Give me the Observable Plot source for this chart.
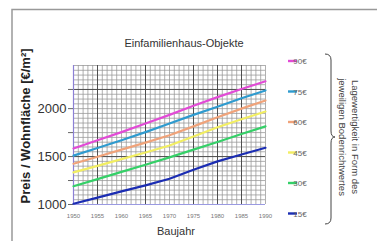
<!DOCTYPE html>
<html>
<head>
<meta charset="utf-8">
<script src="https://cdn.jsdelivr.net/npm/d3@7"></script>
<script src="https://cdn.jsdelivr.net/npm/@observablehq/plot@0.6"></script>
<style>
  html, body { margin: 0; padding: 0; background: #fff; }
  #chart svg { display: block; }
</style>
</head>
<body>
<div id="chart"></div>
<script>
// ---- data ----
const years = [1950, 1955, 1960, 1965, 1970, 1975, 1980, 1985, 1990];
const seriesLabels = ["90€", "75€", "60€", "45€", "30€", "15€"];
const seriesColors = ["#e24bd6", "#2f9bcf", "#f0a37a", "#f2ee62", "#35d068", "#1b2db3"];
const v90 = [1585, 1670, 1755, 1845, 1935, 2030, 2120, 2205, 2285];
const v75 = [1510, 1590, 1670, 1755, 1845, 1935, 2020, 2108, 2190];
const v60 = [1425, 1498, 1572, 1645, 1722, 1815, 1910, 2000, 2085];
const v45 = [1335, 1403, 1473, 1543, 1616, 1710, 1805, 1890, 1970];
const v30 = [1190, 1265, 1340, 1415, 1492, 1572, 1652, 1735, 1815];
const v15 = [1008, 1072, 1137, 1200, 1268, 1362, 1450, 1522, 1592];
const seriesValues = [v90, v75, v60, v45, v30, v15];
const xTicks = [1950, 1955, 1960, 1965, 1970, 1975, 1980, 1985, 1990];
const yTicks = [1000, 1500, 2000];
const yMinorTicks = [1000, 1250, 1500, 1750, 2000, 2200];
const gridYearsMinor = d3.range(1950, 1991, 1);
const gridValuesMinor = d3.range(1000, 2451, 50);
const gridYearsMajor = [1955, 1965, 1975, 1980, 1985];
const gridValuesMajor = [1500, 2200];
const title = "Einfamilienhaus-Objekte";
const xLabel = "Baujahr";
const yLabel = "Preis / Wohnfläche [€/m²]";
const legendTitle1 = "Lagewertigkeit in Form des";
const legendTitle2 = "jeweiligen Bodenrichtwertes";

const table = [];
seriesLabels.forEach((s, i) => {
  years.forEach((yr, j) => table.push({ series: s, year: yr, value: seriesValues[i][j] }));
});

const font = "'Liberation Sans', Arial, Helvetica, sans-serif";

const chart = Plot.plot({
  width: 377,
  height: 241,
  marginLeft: 73,
  marginRight: 112,
  marginTop: 65,
  marginBottom: 37,
  style: { fontFamily: font, background: "#fff", overflow: "visible" },
  x: { domain: [1950, 1990] },
  y: { domain: [1000, 2450] },
  color: { domain: seriesLabels, range: seriesColors },
  marks: [
    Plot.ruleX(gridYearsMinor, { stroke: "#959595", strokeWidth: 0.75 }),
    Plot.ruleY(gridValuesMinor, { stroke: "#959595", strokeWidth: 0.75 }),
    Plot.ruleX(gridYearsMajor, { stroke: "#444", strokeWidth: 0.9 }),
    Plot.ruleY(gridValuesMajor, { stroke: "#444", strokeWidth: 0.9 }),
    Plot.ruleX([1950], { stroke: "#8c80d6", strokeWidth: 1.2 }),
    Plot.ruleY([1000], { stroke: "#9a9ae2", strokeWidth: 1.2 }),
    Plot.axisX(xTicks, { tickSize: 0, tickPadding: 9, fontSize: 6, fill: "#777", label: null, tickFormat: d => String(d) }),
    Plot.axisY(yMinorTicks, { tickSize: 5, stroke: "#666", tickFormat: () => "", label: null }),
    Plot.axisY(yTicks, { tickSize: 0, tickPadding: 7, fontSize: 13, fill: "#333", label: null, tickFormat: d => String(d) }),
    Plot.line(table, { x: "year", y: "value", z: "series", stroke: "series", strokeWidth: 2.2 })
  ]
});

document.getElementById("chart").appendChild(chart);

// ---- decorations (frame, titles, legend) ----
const svg = d3.select(chart);
const g = svg.append("g").attr("font-family", font);

// frame
g.append("path").attr("d", "M12,241 L12,9.5 L377,9.5").attr("fill", "none").attr("stroke", "#999").attr("stroke-width", 1.5);

// title
g.append("text").attr("x", 184).attr("y", 47).attr("text-anchor", "middle")
  .attr("font-size", 11).attr("fill", "#333").text(title);

// x label
g.append("text").attr("x", 176).attr("y", 235).attr("text-anchor", "middle")
  .attr("font-size", 11).attr("fill", "#333").text(xLabel);

// y label
g.append("text").attr("transform", "translate(30,126) rotate(-90)").attr("text-anchor", "middle")
  .attr("font-size", 13).attr("font-weight", "bold").attr("fill", "#222").text(yLabel);

// legend
seriesLabels.forEach((s, i) => {
  const yy = 61 + i * 30.5;
  g.append("line").attr("x1", 288).attr("x2", 297).attr("y1", yy).attr("y2", yy)
    .attr("stroke", seriesColors[i]).attr("stroke-width", 2.4);
  g.append("text").attr("x", 300).attr("y", yy + 3).attr("font-size", 8).attr("fill", "#666").text(s);
});

// brace
g.append("path")
  .attr("d", "M325,54 Q331,54 331,60 L331,131 Q331,137 335,137 Q331,137 331,143 L331,218 Q331,224 325,224")
  .attr("fill", "none").attr("stroke", "#444").attr("stroke-width", 1);

// rotated legend title
g.append("text").attr("transform", "translate(352,137) rotate(90)").attr("text-anchor", "middle")
  .attr("font-size", 9.5).attr("fill", "#444").text(legendTitle1);
g.append("text").attr("transform", "translate(339,137) rotate(90)").attr("text-anchor", "middle")
  .attr("font-size", 9.5).attr("fill", "#444").text(legendTitle2);
</script>
</body>
</html>
